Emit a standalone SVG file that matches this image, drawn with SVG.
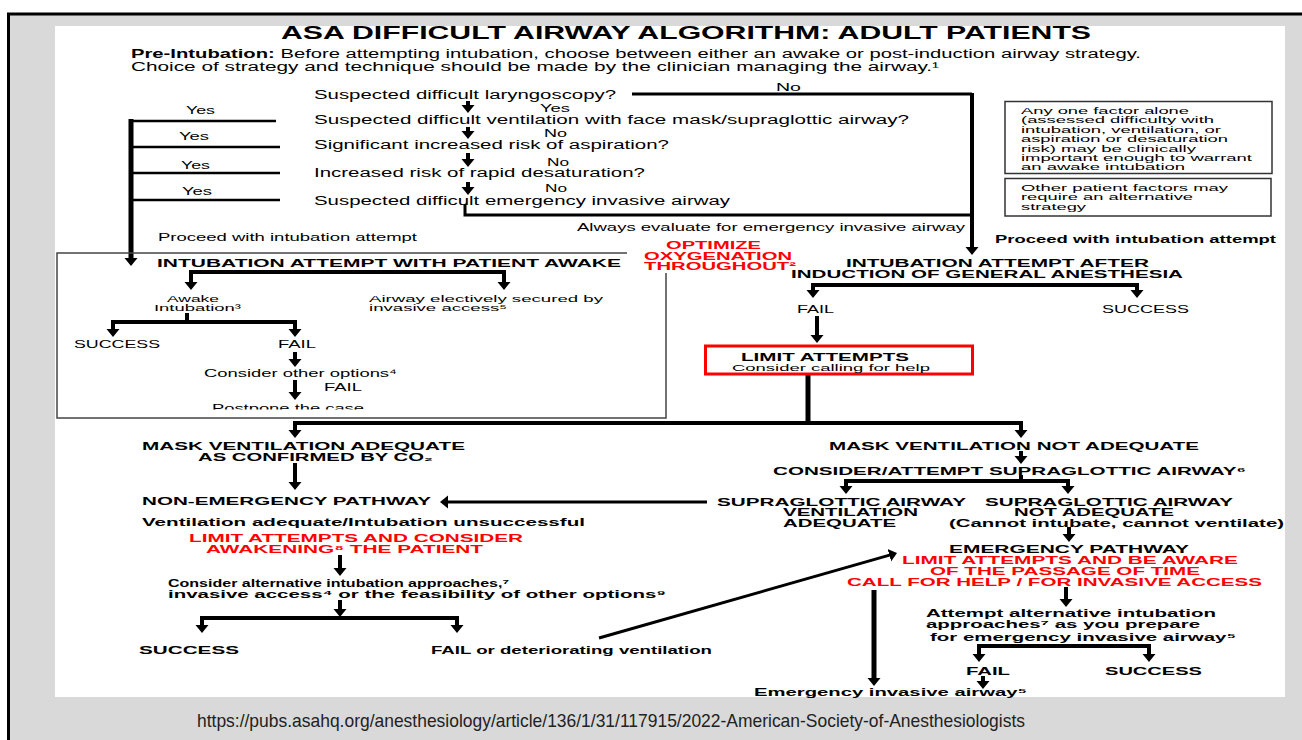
<svg xmlns="http://www.w3.org/2000/svg" width="1302" height="740" viewBox="0 0 1302 740">
<defs>
<style>
text{font-family:"Liberation Sans",Arial,Helvetica,sans-serif;fill:#000;font-size:10.5px}
.b{font-weight:bold}
.r{fill:#ff0000}
.h{font-size:10.5px;font-weight:bold}
.q{font-size:12px}
.sm{font-size:9.5px}
.ti{font-size:19px;font-weight:bold}
.pre{font-size:12.5px}
.ft{font-size:19px;fill:#222}
.ln{stroke:#000;fill:none}
.w5{stroke-width:5}
.w4{stroke-width:4}
.w3{stroke-width:3}
.w2{stroke-width:2.5}
.ar{marker-end:url(#ah)}
.ar2{marker-start:url(#ah);marker-end:url(#ah)}
.box{fill:none;stroke:#333;stroke-width:1.5}
</style>
<marker id="ah" markerUnits="userSpaceOnUse" markerWidth="9" markerHeight="14" refX="3" refY="7" orient="auto-start-reverse"><path d="M0,0.5 L8,7 L0,13.5 z" fill="#000"/></marker>
<clipPath id="pc"><rect x="200" y="390" width="200" height="19.5"/></clipPath>
</defs>

<g id="background">
<rect width="1302" height="740" fill="#fff"/>
<rect x="8" y="14" width="1294" height="726" fill="#d9d9d9"/>
<path d="M8.5,740 V14 H1302" stroke="#000" stroke-width="3" fill="none"/>
<rect x="55" y="26" width="1230" height="671" fill="#fff"/>
</g>

<g id="connectors">
<path class="ln w3" d="M632,94 H972"/>
<path class="ln w4 ar" d="M972,93 V250"/>
<path class="ln w4 ar" d="M468,101 V108"/>
<path class="ln w4 ar" d="M468,127 V134"/>
<path class="ln w4 ar" d="M468,153 V162"/>
<path class="ln w4 ar" d="M468,182 V190"/>
<path class="ln w3" d="M465,204 V215 H972"/>
<path class="ln w5 ar" d="M131,119 V261"/>
<path class="ln w2" d="M131,121 H276 M131,147 H280 M131,173 H280 M131,200 H280"/>
<path class="ln w4 ar2" d="M191,285 V272 H504 V285"/>
<path class="ln w4" d="M187,313 V322"/>
<path class="ln w4 ar2" d="M113,332 V322 H295 V332"/>
<path class="ln w4 ar" d="M295,352 V362"/>
<path class="ln w4 ar" d="M295,380 V395"/>
<path class="ln w4 ar2" d="M813,293 V285 H1137 V293"/>
<path class="ln w4 ar" d="M817,316 V338"/>
<path class="ln w5" d="M808,375 V423"/>
<path class="ln w4 ar2" d="M295,433 V423 H1021 V433"/>
<path class="ln w4 ar" d="M295,463 V485"/>
<path class="ln w3 ar" d="M707,502 H445"/>
<path class="ln w4 ar" d="M340,555 V571"/>
<path class="ln w4 ar" d="M340,600 V612"/>
<path class="ln w4 ar2" d="M202,628 V618 H457 V628"/>
<path class="ln w3 ar" d="M599,638 L892.2,554.4"/>
<path class="ln w4 ar" d="M1021,451 V459"/>
<path class="ln w4" d="M1021,475 V481"/>
<path class="ln w4 ar2" d="M846,489 V481 H1068 V489"/>
<path class="ln w4 ar" d="M1069,527 V537"/>
<path class="ln w5 ar" d="M874,590 V681"/>
<path class="ln w4 ar" d="M1066,587 V602"/>
<path class="ln w4 ar2" d="M979,657 V646 H1149 V657"/>
<path class="ln w4 ar" d="M983,676 V684"/>
</g>

<g id="title">
<text class="ti" x="281" y="38.5" textLength="810" lengthAdjust="spacingAndGlyphs">ASA DIFFICULT AIRWAY ALGORITHM: ADULT PATIENTS</text>
</g>

<g id="pre-intubation">
<text class="pre" x="131" y="58" textLength="1010" lengthAdjust="spacingAndGlyphs"><tspan class="b">Pre-Intubation:</tspan> Before attempting intubation, choose between either an awake or post-induction airway strategy.</text>
<text class="pre" x="131" y="71" textLength="808" lengthAdjust="spacingAndGlyphs">Choice of strategy and technique should be made by the clinician managing the airway.¹</text>
</g>

<g id="questions">
<text class="q" x="314" y="99" textLength="302" lengthAdjust="spacingAndGlyphs">Suspected difficult laryngoscopy?</text>
<text class="q" x="314" y="124" textLength="595" lengthAdjust="spacingAndGlyphs">Suspected difficult ventilation with face mask/supraglottic airway?</text>
<text class="q" x="314" y="149" textLength="355" lengthAdjust="spacingAndGlyphs">Significant increased risk of aspiration?</text>
<text class="q" x="314" y="177" textLength="331" lengthAdjust="spacingAndGlyphs">Increased risk of rapid desaturation?</text>
<text class="q" x="314" y="205" textLength="416" lengthAdjust="spacingAndGlyphs">Suspected difficult emergency invasive airway</text>
<text x="776" y="91" textLength="25" lengthAdjust="spacingAndGlyphs">No</text>
<text x="540" y="112" textLength="30" lengthAdjust="spacingAndGlyphs">Yes</text>
<text x="544" y="136.5" textLength="23" lengthAdjust="spacingAndGlyphs">No</text>
<text x="547" y="165.5" textLength="22" lengthAdjust="spacingAndGlyphs">No</text>
<text x="545" y="192" textLength="22" lengthAdjust="spacingAndGlyphs">No</text>
<text x="186" y="114" textLength="29" lengthAdjust="spacingAndGlyphs">Yes</text>
<text x="179" y="139.5" textLength="30" lengthAdjust="spacingAndGlyphs">Yes</text>
<text x="181" y="169" textLength="29" lengthAdjust="spacingAndGlyphs">Yes</text>
<text x="182" y="194.5" textLength="30" lengthAdjust="spacingAndGlyphs">Yes</text>
<text x="577" y="230.5" textLength="388" lengthAdjust="spacingAndGlyphs">Always evaluate for emergency invasive airway</text>
<text x="158" y="241" textLength="259" lengthAdjust="spacingAndGlyphs">Proceed with intubation attempt</text>
<text class="b" x="995" y="243" textLength="281" lengthAdjust="spacingAndGlyphs">Proceed with intubation attempt</text>
</g>

<g id="note-any-factor">
<rect class="box" x="1005" y="101.5" width="267" height="72"/>
<text class="sm" x="1021" y="113.5" textLength="168" lengthAdjust="spacingAndGlyphs">Any one factor alone</text>
<text class="sm" x="1021" y="123" textLength="193" lengthAdjust="spacingAndGlyphs">(assessed difficulty with</text>
<text class="sm" x="1021" y="132.5" textLength="200" lengthAdjust="spacingAndGlyphs">intubation, ventilation, or</text>
<text class="sm" x="1021" y="142" textLength="207" lengthAdjust="spacingAndGlyphs">aspiration or desaturation</text>
<text class="sm" x="1021" y="151.5" textLength="175" lengthAdjust="spacingAndGlyphs">risk) may be clinically</text>
<text class="sm" x="1021" y="161" textLength="231" lengthAdjust="spacingAndGlyphs">important enough to warrant</text>
<text class="sm" x="1021" y="170" textLength="164" lengthAdjust="spacingAndGlyphs">an awake intubation</text>
</g>

<g id="note-other-factors">
<rect class="box" x="1005" y="178.5" width="266" height="37.5"/>
<text class="sm" x="1021" y="190.5" textLength="207" lengthAdjust="spacingAndGlyphs">Other patient factors may</text>
<text class="sm" x="1021" y="200" textLength="172" lengthAdjust="spacingAndGlyphs">require an alternative</text>
<text class="sm" x="1021" y="210" textLength="65" lengthAdjust="spacingAndGlyphs">strategy</text>
</g>

<g id="optimize-oxygenation">
<text class="h r" x="666" y="249" textLength="95" lengthAdjust="spacingAndGlyphs">OPTIMIZE</text>
<text class="h r" x="644" y="259.5" textLength="148" lengthAdjust="spacingAndGlyphs">OXYGENATION</text>
<text class="h r" x="644" y="270" textLength="152" lengthAdjust="spacingAndGlyphs">THROUGHOUT²</text>
</g>

<g id="awake-intubation">
<path d="M627,253 H57 V418 H666 V273" fill="none" stroke="#444" stroke-width="1.5"/>
<text class="h" x="157" y="266.5" textLength="464" lengthAdjust="spacingAndGlyphs">INTUBATION ATTEMPT WITH PATIENT AWAKE</text>
<text class="sm" x="167" y="301.5" textLength="52" lengthAdjust="spacingAndGlyphs">Awake</text>
<text class="sm" x="154" y="310.5" textLength="87" lengthAdjust="spacingAndGlyphs">Intubation³</text>
<text class="sm" x="369" y="301.5" textLength="234" lengthAdjust="spacingAndGlyphs">Airway electively secured by</text>
<text class="sm" x="369" y="310.5" textLength="138" lengthAdjust="spacingAndGlyphs">invasive access⁵</text>
<text x="74" y="348" textLength="86" lengthAdjust="spacingAndGlyphs">SUCCESS</text>
<text x="278" y="348" textLength="38" lengthAdjust="spacingAndGlyphs">FAIL</text>
<text x="204" y="377" textLength="193" lengthAdjust="spacingAndGlyphs">Consider other options⁴</text>
<text x="324" y="391" textLength="38" lengthAdjust="spacingAndGlyphs">FAIL</text>
<text x="212" y="412" textLength="152" lengthAdjust="spacingAndGlyphs" clip-path="url(#pc)">Postpone the case</text>
</g>

<g id="induction">
<text class="h" x="846" y="267" textLength="303" lengthAdjust="spacingAndGlyphs">INTUBATION ATTEMPT AFTER</text>
<text class="h" x="791" y="277.5" textLength="392" lengthAdjust="spacingAndGlyphs">INDUCTION OF GENERAL ANESTHESIA</text>
<text x="797" y="313" textLength="37" lengthAdjust="spacingAndGlyphs">FAIL</text>
<text x="1102" y="313" textLength="87" lengthAdjust="spacingAndGlyphs">SUCCESS</text>
</g>

<g id="limit-attempts">
<rect x="705.5" y="346" width="267" height="28" fill="#fff" stroke="#ff0000" stroke-width="3"/>
<text class="h" x="741" y="361" textLength="168" lengthAdjust="spacingAndGlyphs">LIMIT ATTEMPTS</text>
<text class="sm" x="732" y="370.5" textLength="198" lengthAdjust="spacingAndGlyphs">Consider calling for help</text>
</g>

<g id="mask-adequate">
<text class="h" x="142" y="450" textLength="323" lengthAdjust="spacingAndGlyphs">MASK VENTILATION ADEQUATE</text>
<text class="h" x="198" y="461" textLength="235" lengthAdjust="spacingAndGlyphs">AS CONFIRMED BY CO₂</text>
</g>

<g id="non-emergency">
<text class="h" x="142" y="505" textLength="289" lengthAdjust="spacingAndGlyphs">NON-EMERGENCY PATHWAY</text>
<text class="b" x="142" y="526" textLength="443" lengthAdjust="spacingAndGlyphs">Ventilation adequate/Intubation unsuccessful</text>
<text class="h r" x="189" y="542" textLength="334" lengthAdjust="spacingAndGlyphs">LIMIT ATTEMPTS AND CONSIDER</text>
<text class="h r" x="206" y="552.5" textLength="277" lengthAdjust="spacingAndGlyphs">AWAKENING⁸ THE PATIENT</text>
<text class="b" x="168" y="587" textLength="341" lengthAdjust="spacingAndGlyphs">Consider alternative intubation approaches,⁷</text>
<text class="b" x="168" y="597.5" textLength="498" lengthAdjust="spacingAndGlyphs">invasive access⁴ or the feasibility of other options⁹</text>
<text class="b" x="139" y="654" textLength="100" lengthAdjust="spacingAndGlyphs">SUCCESS</text>
<text class="b" x="431" y="654" textLength="281" lengthAdjust="spacingAndGlyphs">FAIL or deteriorating ventilation</text>
</g>

<g id="mask-not-adequate">
<text class="h" x="829" y="450" textLength="370" lengthAdjust="spacingAndGlyphs">MASK VENTILATION NOT ADEQUATE</text>
<text class="h" x="773" y="474.5" textLength="473" lengthAdjust="spacingAndGlyphs">CONSIDER/ATTEMPT SUPRAGLOTTIC AIRWAY⁶</text>
</g>

<g id="sga-adequate">
<text class="h" x="717" y="506" textLength="249" lengthAdjust="spacingAndGlyphs">SUPRAGLOTTIC AIRWAY</text>
<text class="h" x="783" y="516" textLength="135" lengthAdjust="spacingAndGlyphs">VENTILATION</text>
<text class="h" x="783" y="526.5" textLength="113" lengthAdjust="spacingAndGlyphs">ADEQUATE</text>
</g>

<g id="sga-not-adequate">
<text class="h" x="985" y="506" textLength="248" lengthAdjust="spacingAndGlyphs">SUPRAGLOTTIC AIRWAY</text>
<text class="h" x="1014" y="516" textLength="160" lengthAdjust="spacingAndGlyphs">NOT ADEQUATE</text>
<text class="h" x="949" y="526.5" textLength="335" lengthAdjust="spacingAndGlyphs">(Cannot intubate, cannot ventilate)</text>
</g>

<g id="emergency-pathway">
<text class="h" x="949" y="553" textLength="240" lengthAdjust="spacingAndGlyphs">EMERGENCY PATHWAY</text>
<text class="h r" x="902" y="564" textLength="336" lengthAdjust="spacingAndGlyphs">LIMIT ATTEMPTS AND BE AWARE</text>
<text class="h r" x="930" y="574.5" textLength="270" lengthAdjust="spacingAndGlyphs">OF THE PASSAGE OF TIME</text>
<text class="h r" x="847" y="585.5" textLength="415" lengthAdjust="spacingAndGlyphs">CALL FOR HELP / FOR INVASIVE ACCESS</text>
<text class="b" x="926" y="617" textLength="290" lengthAdjust="spacingAndGlyphs">Attempt alternative intubation</text>
<text class="b" x="926" y="627.5" textLength="274" lengthAdjust="spacingAndGlyphs">approaches⁷ as you prepare</text>
<text class="b" x="930" y="641" textLength="306" lengthAdjust="spacingAndGlyphs">for emergency invasive airway⁵</text>
<text class="b" x="966" y="674.5" textLength="44" lengthAdjust="spacingAndGlyphs">FAIL</text>
<text class="b" x="1105" y="674.5" textLength="97" lengthAdjust="spacingAndGlyphs">SUCCESS</text>
</g>

<g id="emergency-invasive-airway">
<text class="b" x="754" y="696" textLength="273" lengthAdjust="spacingAndGlyphs">Emergency invasive airway⁵</text>
</g>

<g id="footer">
<text class="ft" x="197" y="727" textLength="828" lengthAdjust="spacingAndGlyphs">https://pubs.asahq.org/anesthesiology/article/136/1/31/117915/2022-American-Society-of-Anesthesiologists</text>
</g>
</svg>
